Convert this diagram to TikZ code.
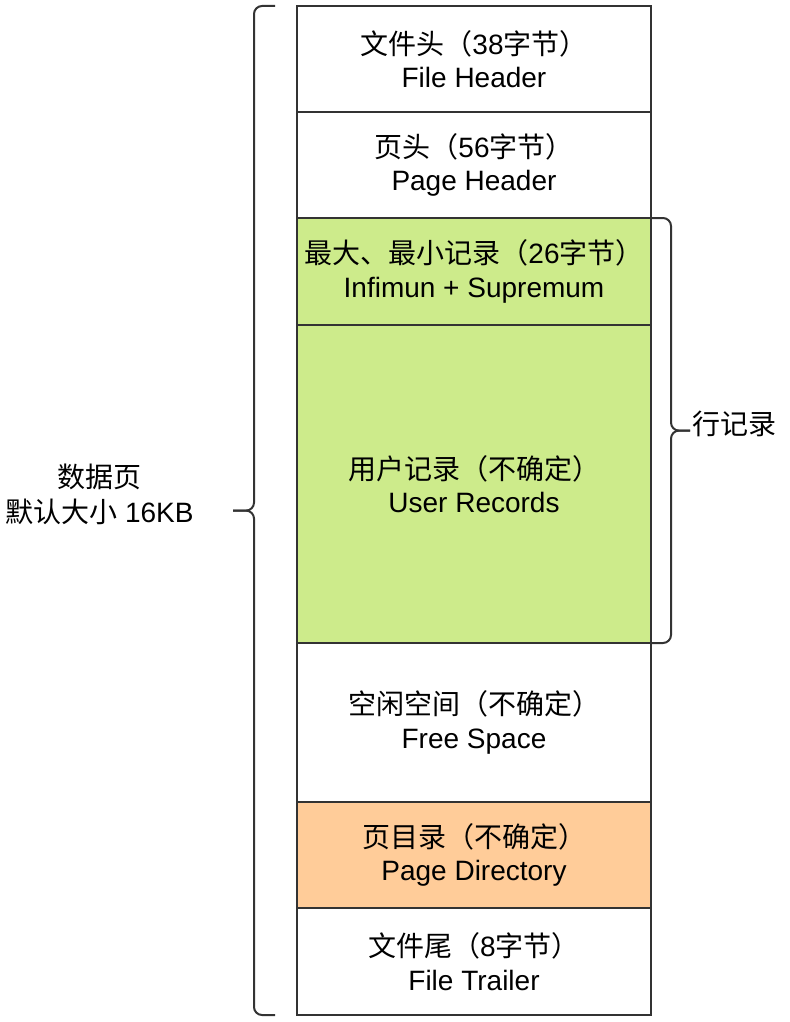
\documentclass[tikz,border=0pt]{standalone}
\usepackage{fontspec}
\setmainfont{Liberation Sans}
\newfontfamily\cjk{Noto Sans CJK SC}
\usetikzlibrary{positioning}
\definecolor{recgreen}{HTML}{CDEB8B}
\definecolor{dirorange}{HTML}{FFCC99}
\definecolor{edge}{HTML}{333333}
\tikzset{
  seg/.style={draw=edge, line width=1pt, minimum width=177pt, inner sep=2pt, outer sep=0pt, align=center, font=\fontsize{14pt}{16.8pt}\selectfont},
  hd/.style={seg, fill=white},
  rec/.style={seg, fill=recgreen},
  dir/.style={seg, fill=dirorange},
  brc/.style={draw=edge, line width=1pt, rounded corners=4pt},
  lbl/.style={align=center, inner sep=0pt, font=\fontsize{14pt}{17.5pt}\selectfont},
}
\begin{document}
\begin{tikzpicture}
\useasboundingbox (0,0) rectangle (395pt,-511pt);
% page stack
\node[hd, anchor=north west, minimum height=53pt] (fh) at (148.5pt,-3pt) {{\cjk 文件头（}38{\cjk 字节）}\\File Header};
\node[hd, below=0pt of fh, minimum height=53pt] (ph) {{\cjk 页头（}56{\cjk 字节）}\\Page Header};
\node[rec, below=0pt of ph, minimum height=53.5pt] (mm) {{\cjk 最大、最小记录（}26{\cjk 字节）}\\Infimun + Supremum};
\node[rec, below=0pt of mm, minimum height=159pt] (ur) {{\cjk 用户记录（不确定）}\\User Records};
\node[hd, below=0pt of ur, minimum height=79.5pt] (fs) {{\cjk 空闲空间（不确定）}\\Free Space};
\node[dir, below=0pt of fs, minimum height=53pt] (pd) {{\cjk 页目录（不确定）}\\Page Directory};
\node[hd, below=0pt of pd, minimum height=53.5pt] (ft) {{\cjk 文件尾（}8{\cjk 字节）}\\File Trailer};
% left brace: whole page
\coordinate (ltop) at (137.5pt,-3pt);
\coordinate (lbot) at (137.5pt,-507.5pt);
\coordinate (ltip) at (116.5pt,-255.3pt);
\draw[brc] (ltop) -- ++(-10.5pt,0) |- (ltip);
\draw[brc] (lbot) -- ++(-10.5pt,0) |- (ltip);
\node[lbl, anchor=east] (page) at (97pt,-247pt) {{\cjk 数据页}\\{\cjk 默认大小} 16KB};
% right brace: row records
\coordinate (rtip) at (345pt,-215.3pt);
\draw[brc] (mm.north east) -- ++(10pt,0) |- (rtip);
\draw[brc] (ur.south east) -- ++(10pt,0) |- (rtip);
\node[lbl, right=1pt of rtip, yshift=3.5pt] (rows) {\cjk 行记录};
\end{tikzpicture}
\end{document}
